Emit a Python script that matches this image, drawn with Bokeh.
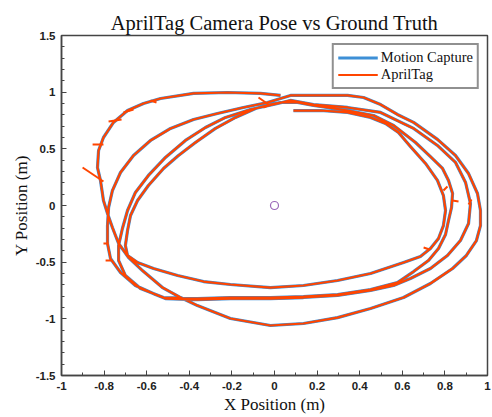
from bokeh.plotting import figure
from bokeh.models import FixedTicker, CustomJSTickFormatter, Range1d
from bokeh.embed import file_html
from bokeh.resources import INLINE

# ---- trajectory (metres), lap by lap ----
lap0_x = [0.089, 0.216, 0.343, 0.451, 0.521, 0.582, 0.638, 0.709, 0.765, 0.793, 0.803, 0.793, 0.770, 0.732,
          0.685, 0.606, 0.451, 0.296, 0.136, -0.019, -0.207, -0.333, -0.455, -0.568, -0.643, -0.690, -0.700,
          -0.690, -0.676, -0.643, -0.592, -0.521, -0.451, -0.371, -0.277, -0.183, -0.089, -0.019]
lap0_y = [0.838, 0.838, 0.821, 0.777, 0.724, 0.644, 0.521, 0.371, 0.221, 0.088, -0.044, -0.177, -0.291, -0.380,
          -0.450, -0.503, -0.600, -0.662, -0.706, -0.724, -0.697, -0.671, -0.618, -0.556, -0.503, -0.441, -0.353,
          -0.221, -0.088, 0.044, 0.177, 0.327, 0.441, 0.556, 0.680, 0.777, 0.856, 0.891]

lap1_x = [0.028, 0.108, 0.183, 0.343, 0.465, 0.559, 0.662, 0.732, 0.789, 0.817, 0.836, 0.831, 0.817, 0.803,
          0.770, 0.723, 0.653, 0.577, 0.451, 0.296, 0.136, -0.019, -0.207, -0.362, -0.521, -0.629, -0.700,
          -0.732, -0.732, -0.714, -0.690, -0.653, -0.592, -0.512, -0.418, -0.324, -0.230, -0.113, -0.005]
lap1_y = [0.909, 0.909, 0.883, 0.838, 0.794, 0.706, 0.556, 0.432, 0.327, 0.221, 0.106, -0.018, -0.132, -0.256,
          -0.380, -0.485, -0.583, -0.680, -0.741, -0.786, -0.803, -0.812, -0.812, -0.821, -0.812, -0.733, -0.618,
          -0.485, -0.353, -0.203, -0.044, 0.115, 0.265, 0.424, 0.574, 0.688, 0.777, 0.847, 0.891]

lap2_x = [0.075, 0.183, 0.343, 0.498, 0.653, 0.765, 0.850, 0.897, 0.920, 0.911, 0.873, 0.812, 0.732, 0.638,
          0.559, 0.451, 0.296, 0.136, -0.019, -0.207, -0.362, -0.512, -0.559, -0.653, -0.723, -0.770, -0.784,
          -0.784, -0.779, -0.761, -0.723, -0.662, -0.582, -0.488, -0.380, -0.268, -0.146, -0.033]
lap2_y = [0.927, 0.891, 0.865, 0.821, 0.680, 0.530, 0.380, 0.203, 0.018, -0.159, -0.309, -0.441, -0.556, -0.644,
          -0.706, -0.750, -0.794, -0.812, -0.821, -0.821, -0.830, -0.821, -0.786, -0.706, -0.591, -0.468, -0.335,
          -0.177, -0.018, 0.132, 0.291, 0.441, 0.574, 0.680, 0.759, 0.812, 0.865, 0.909]

lap3_x = [0.075, 0.183, 0.343, 0.418, 0.498, 0.577, 0.653, 0.765, 0.850, 0.911, 0.953, 0.967, 0.967, 0.948,
          0.901, 0.836, 0.732, 0.606, 0.451, 0.296, 0.136, -0.019, -0.207, -0.362, -0.441, -0.526, -0.620,
          -0.685, -0.732, -0.761, -0.784, -0.803, -0.817, -0.831, -0.826, -0.803, -0.756, -0.690, -0.615,
          -0.535, -0.380, -0.221, -0.066, 0.028]
lap3_y = [0.971, 0.971, 0.971, 0.953, 0.891, 0.803, 0.733, 0.583, 0.441, 0.282, 0.106, -0.044, -0.177, -0.309,
          -0.441, -0.556, -0.688, -0.812, -0.909, -0.989, -1.041, -1.059, -0.997, -0.883, -0.812, -0.724, -0.574,
          -0.459, -0.335, -0.194, -0.071, 0.044, 0.221, 0.335, 0.485, 0.600, 0.733, 0.838, 0.900, 0.944,
          0.989, 0.997, 0.989, 0.971]

# AprilTag outlier spikes (start / end of each jump)
spike_x0 = [-0.901, -0.854, -0.779, -0.709, -0.582, -0.075, -0.052, 0.836, 0.911, 0.700, -0.803, -0.793, 0.793]
spike_y0 = [0.335, 0.538, 0.741, 0.821, 0.927, 0.953, 0.865, 0.044, 0.009, -0.371, -0.335, -0.485, 0.132]
spike_x1 = [-0.803, -0.803, -0.718, -0.662, -0.554, -0.028, -0.019, 0.864, 0.925, 0.728, -0.779, -0.765, 0.812]
spike_y1 = [0.212, 0.538, 0.759, 0.847, 0.909, 0.891, 0.891, 0.035, 0.053, -0.388, -0.335, -0.485, 0.168]

origin_x = [0.0]
origin_y = [0.0]

x_ticks = [-1, -0.8, -0.6, -0.4, -0.2, 0, 0.2, 0.4, 0.6, 0.8, 1]
x_minor = [-0.9, -0.7, -0.5, -0.3, -0.1, 0.1, 0.3, 0.5, 0.7, 0.9]
y_ticks = [-1.5, -1, -0.5, 0, 0.5, 1, 1.5]
y_minor = [-1.4, -1.3, -1.2, -1.1, -0.9, -0.8, -0.7, -0.6, -0.4, -0.3, -0.2, -0.1,
           0.1, 0.2, 0.3, 0.4, 0.6, 0.7, 0.8, 0.9, 1.1, 1.2, 1.3, 1.4]

path_x = lap0_x + lap1_x + lap2_x + lap3_x
path_y = lap0_y + lap1_y + lap2_y + lap3_y

BLUE = "#3d8fd6"
ORANGE = "#ff4500"
FRAME = "#444444"

p = figure(width=492, height=417, x_range=Range1d(-1, 1), y_range=Range1d(-1.5, 1.5),
           output_backend="svg", toolbar_location=None,
           min_border_left=61, min_border_right=5, min_border_top=35, min_border_bottom=42,
           background_fill_color="white", border_fill_color="white",
           outline_line_color=FRAME, outline_line_width=1.5,
           title="AprilTag Camera Pose vs Ground Truth")
p.grid.visible = False

p.title.text_font = "Liberation Serif"
p.title.text_font_style = "normal"
p.title.text_font_size = "20.5px"
p.title.align = "center"
p.title.text_color = "#111111"
p.title.standoff = 3

p.line(path_x, path_y, line_color=BLUE, line_width=3.2, line_join="round", legend_label="Motion Capture")
p.line(path_x, path_y, line_color=ORANGE, line_width=2.2, line_join="round", legend_label="AprilTag")
p.segment(x0=spike_x0, y0=spike_y0, x1=spike_x1, y1=spike_y1, line_color=ORANGE, line_width=2)
p.scatter(origin_x, origin_y, marker="circle", size=8, fill_color=None, line_color="#9a68b8", line_width=1.2)

fmt = CustomJSTickFormatter(code="return Number(tick.toFixed(2)).toString();")


def style(ax, ticks, minor):
    ax.ticker = FixedTicker(ticks=ticks, minor_ticks=minor)
    ax.formatter = fmt
    ax.major_tick_in = 5
    ax.major_tick_out = 0
    ax.minor_tick_in = 3
    ax.minor_tick_out = 0
    ax.axis_line_color = FRAME
    ax.axis_line_width = 1.5
    ax.major_tick_line_color = FRAME
    ax.minor_tick_line_color = FRAME
    ax.major_tick_line_width = 1
    ax.minor_tick_line_width = 1
    ax.major_label_text_font = "Liberation Sans"
    ax.major_label_text_font_style = "bold"
    ax.major_label_text_font_size = "11.5px"
    ax.major_label_text_color = "#222222"
    ax.major_label_standoff = 6
    ax.axis_label_text_font = "Liberation Serif"
    ax.axis_label_text_font_style = "normal"
    ax.axis_label_text_font_size = "17px"
    ax.axis_label_text_color = "#111111"
    ax.axis_label_standoff = 2


style(p.xaxis[0], x_ticks, x_minor)
style(p.yaxis[0], y_ticks, y_minor)
p.xaxis[0].axis_label = "X Position (m)"
p.yaxis[0].axis_label = "Y Position (m)"

lg = p.legend[0]
lg.location = "top_right"
lg.margin = 8
lg.border_line_color = "#222222"
lg.border_line_width = 2
lg.background_fill_color = "white"
lg.background_fill_alpha = 1
lg.label_text_font = "Liberation Serif"
lg.label_text_font_size = "14.5px"
lg.label_text_color = "#111111"
lg.glyph_width = 40
lg.glyph_height = 15
lg.label_height = 15
lg.label_standoff = 3
lg.padding = 4
lg.spacing = 0

open("out.html", "w").write(file_html(p, INLINE))
